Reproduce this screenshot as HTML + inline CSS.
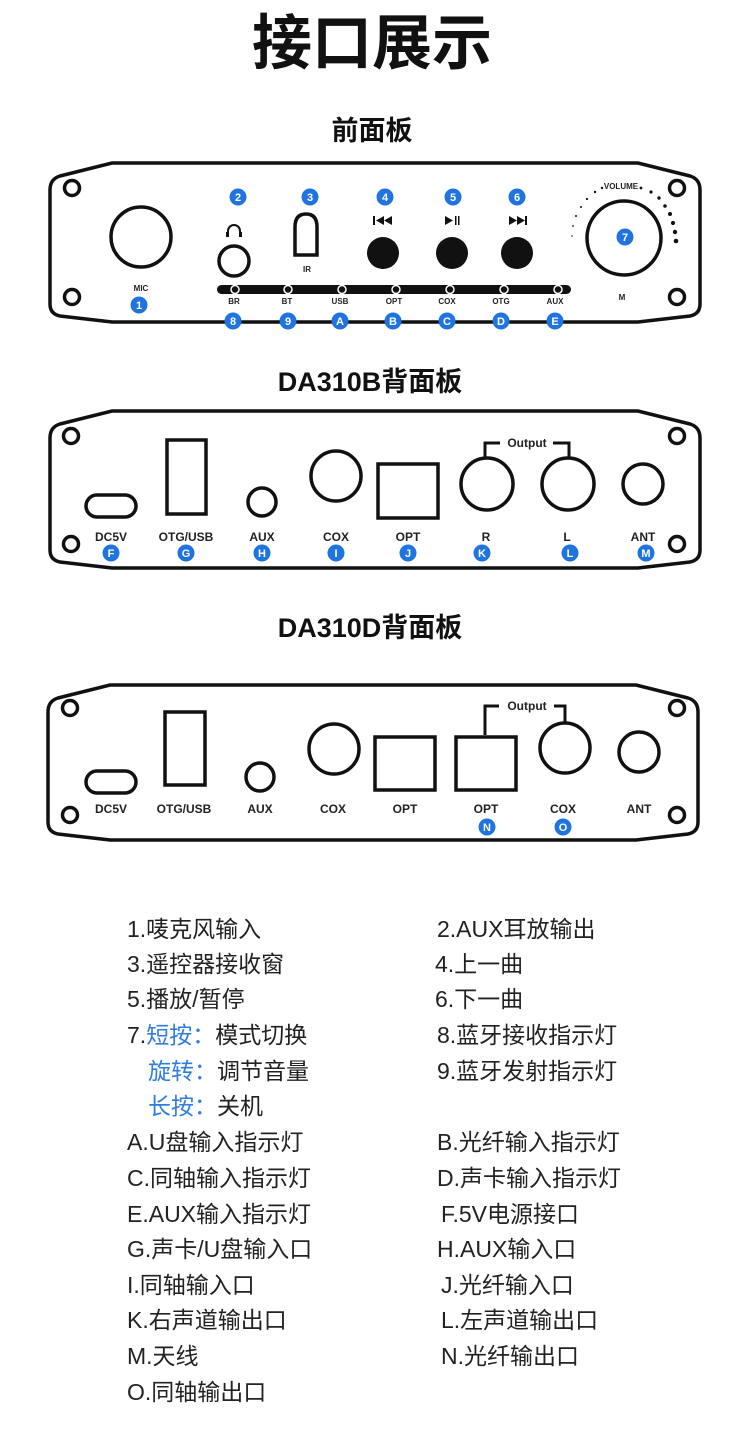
<!DOCTYPE html>
<html><head><meta charset="utf-8"><style>
html,body{margin:0;padding:0;background:#fff;}
svg{display:block}
.t{font-family:"Liberation Sans","Noto Sans CJK SC",sans-serif;}
.lbl{font-family:"Liberation Sans",sans-serif;font-weight:bold;font-size:12px;fill:#222;text-anchor:middle}
.sl{font-family:"Liberation Sans",sans-serif;font-weight:bold;font-size:8px;fill:#222;text-anchor:middle}
.bn{font-family:"Liberation Sans",sans-serif;font-weight:bold;font-size:11px;fill:#fff;text-anchor:middle}
.li{font-family:"Liberation Sans","Noto Sans CJK SC",sans-serif;font-size:23px;fill:#222}
.bl{fill:#2f7de1}
</style></head><body>
<svg width="750" height="1443" viewBox="0 0 750 1443" xmlns="http://www.w3.org/2000/svg">
<defs>
<g id="b"><circle r="8.5" fill="#1f74e0"/></g>
</defs>
<text x="372" y="64" class="t" font-size="60" font-weight="bold" text-anchor="middle" fill="#111">接口展示</text>
<text x="372" y="140" class="t" font-size="27" font-weight="bold" text-anchor="middle" fill="#111">前面板</text>
<text x="370" y="391" class="t" font-size="27" font-weight="bold" text-anchor="middle" fill="#111">DA310B背面板</text>
<text x="370" y="637" class="t" font-size="27" font-weight="bold" text-anchor="middle" fill="#111">DA310D背面板</text>

<!-- FRONT PANEL -->
<g fill="none" stroke="#111" stroke-width="3.5">
<path d="M112,163 H638 L690,176 Q700,179 700,190 V304 Q700,314 690,316 L638,322 H112 L60,316 Q50,314 50,304 V190 Q50,179 60,176 Z"/>
<circle cx="72" cy="188" r="7.5"/><circle cx="72" cy="297" r="7.5"/>
<circle cx="677" cy="188" r="7.5"/><circle cx="677" cy="297" r="7.5"/>
<circle cx="141" cy="237" r="30"/>
<circle cx="234" cy="261" r="15"/>
<path d="M295,255 V227 Q295,214 306,214 Q317,214 317,227 V255 Z"/>
<circle cx="624" cy="238" r="37"/>
</g>
<path d="M228,236 v-5 a6,6 0 0 1 12,0 v5" fill="none" stroke="#111" stroke-width="2"/>
<rect x="226" y="232" width="3" height="5" fill="#111"/><rect x="239" y="232" width="3" height="5" fill="#111"/>
<text x="307" y="272" class="sl">IR</text>
<text x="141" y="291" class="sl">MIC</text>
<text x="622" y="300" class="sl">M</text>
<text x="621" y="189" class="sl" font-size="7">VOLUME</text>
<g fill="#111">
<circle cx="383" cy="253" r="16"/><circle cx="452" cy="253" r="16"/><circle cx="517" cy="253" r="16"/>
<rect x="373" y="216" width="2" height="9"/><path d="M384,216 l-8,4.5 8,4.5z M392,216 l-8,4.5 8,4.5z"/>
<path d="M445,216 l8,4.5 -8,4.5z"/><rect x="455" y="216" width="1.5" height="9"/><rect x="458" y="216" width="1.5" height="9"/>
<path d="M509,216 l8,4.5 -8,4.5z M517,216 l8,4.5 -8,4.5z"/><rect x="525" y="216" width="2" height="9"/>
<rect x="217" y="285" width="354" height="9" rx="4.5"/>
</g>
<g fill="#111" stroke="#fff" stroke-width="1.5">
<circle cx="235" cy="289.5" r="4"/><circle cx="288" cy="289.5" r="4"/><circle cx="342" cy="289.5" r="4"/><circle cx="396" cy="289.5" r="4"/><circle cx="450" cy="289.5" r="4"/><circle cx="504" cy="289.5" r="4"/><circle cx="558" cy="289.5" r="4"/>
</g>
<g fill="#111">
<circle cx="572" cy="236" r="0.8"/><circle cx="573" cy="226" r="0.9"/><circle cx="576" cy="216" r="1"/><circle cx="581" cy="207" r="1"/><circle cx="587" cy="199" r="1.1"/><circle cx="595" cy="192" r="1.2"/><circle cx="602" cy="188" r="1.2"/>
<circle cx="641" cy="188" r="1.4"/><circle cx="651" cy="192" r="1.6"/><circle cx="659" cy="198" r="1.7"/><circle cx="665" cy="206" r="1.8"/><circle cx="670" cy="214" r="2"/><circle cx="673" cy="223" r="2.1"/><circle cx="675" cy="232" r="2.2"/><circle cx="676" cy="241" r="2.3"/>
</g>
<g class="sl"><text x="234" y="304">BR</text><text x="287" y="304">BT</text><text x="340" y="304">USB</text><text x="394" y="304">OPT</text><text x="447" y="304">COX</text><text x="501" y="304">OTG</text><text x="555" y="304">AUX</text></g>
<g>
<use href="#b" x="139" y="305"/><use href="#b" x="238" y="197"/><use href="#b" x="310" y="197"/><use href="#b" x="385" y="197"/><use href="#b" x="453" y="197"/><use href="#b" x="517" y="197"/><use href="#b" x="625" y="237"/>
<use href="#b" x="233" y="321"/><use href="#b" x="288" y="321"/><use href="#b" x="340" y="321"/><use href="#b" x="393" y="321"/><use href="#b" x="447" y="321"/><use href="#b" x="501" y="321"/><use href="#b" x="555" y="321"/>
</g>
<g class="bn">
<text x="139" y="309">1</text><text x="238" y="201">2</text><text x="310" y="201">3</text><text x="385" y="201">4</text><text x="453" y="201">5</text><text x="517" y="201">6</text><text x="625" y="241">7</text>
<text x="233" y="325">8</text><text x="288" y="325">9</text><text x="340" y="325">A</text><text x="393" y="325">B</text><text x="447" y="325">C</text><text x="501" y="325">D</text><text x="555" y="325">E</text>
</g>

<!-- DA310B -->
<g fill="none" stroke="#111" stroke-width="3.5">
<path d="M112,411 H638 L690,424 Q700,427 700,438 V550 Q700,560 690,562 L638,568 H112 L60,562 Q50,560 50,550 V438 Q50,427 60,424 Z"/>
<circle cx="71" cy="436" r="7.5"/><circle cx="71" cy="544" r="7.5"/><circle cx="677" cy="436" r="7.5"/><circle cx="677" cy="544" r="7.5"/>
<rect x="86" y="495" width="50" height="22" rx="11"/>
<rect x="167" y="440" width="39" height="74"/>
<circle cx="262" cy="502" r="14"/>
<circle cx="336" cy="476" r="25"/>
<rect x="378" y="464" width="60" height="54"/>
<circle cx="487" cy="484" r="26"/><circle cx="568" cy="484" r="26"/>
<circle cx="643" cy="484" r="20"/>
<path d="M485,458 V443 H500 M553,443 H569 V458" stroke-width="3"/>
</g>
<text x="527" y="447" class="lbl" font-size="12">Output</text>
<g class="lbl"><text x="111" y="541">DC5V</text><text x="186" y="541">OTG/USB</text><text x="262" y="541">AUX</text><text x="336" y="541">COX</text><text x="408" y="541">OPT</text><text x="486" y="541">R</text><text x="567" y="541">L</text><text x="643" y="541">ANT</text></g>
<g><use href="#b" x="111" y="553"/><use href="#b" x="186" y="553"/><use href="#b" x="262" y="553"/><use href="#b" x="336" y="553"/><use href="#b" x="408" y="553"/><use href="#b" x="482" y="553"/><use href="#b" x="570" y="553"/><use href="#b" x="646" y="553"/></g>
<g class="bn"><text x="111" y="557">F</text><text x="186" y="557">G</text><text x="262" y="557">H</text><text x="336" y="557">I</text><text x="408" y="557">J</text><text x="482" y="557">K</text><text x="570" y="557">L</text><text x="646" y="557">M</text></g>

<!-- DA310D -->
<g fill="none" stroke="#111" stroke-width="3.5">
<path d="M110,685 H636 L688,698 Q698,701 698,712 V822 Q698,832 688,834 L636,840 H110 L58,834 Q48,832 48,822 V712 Q48,701 58,698 Z"/>
<circle cx="70" cy="708" r="7.5"/><circle cx="70" cy="815" r="7.5"/><circle cx="677" cy="708" r="7.5"/><circle cx="677" cy="815" r="7.5"/>
<rect x="86" y="771" width="50" height="22" rx="11"/>
<rect x="165" y="712" width="40" height="73"/>
<circle cx="260" cy="777" r="14"/>
<circle cx="334" cy="749" r="25"/>
<rect x="375" y="737" width="60" height="53"/>
<rect x="456" y="737" width="60" height="53"/>
<circle cx="565" cy="748" r="25"/>
<circle cx="639" cy="752" r="20"/>
<path d="M485,735 V706 H499 M554,706 H565 V722" stroke-width="3"/>
</g>
<text x="527" y="710" class="lbl" font-size="12">Output</text>
<g class="lbl"><text x="111" y="813">DC5V</text><text x="184" y="813">OTG/USB</text><text x="260" y="813">AUX</text><text x="333" y="813">COX</text><text x="405" y="813">OPT</text><text x="486" y="813">OPT</text><text x="563" y="813">COX</text><text x="639" y="813">ANT</text></g>
<g><use href="#b" x="487" y="827"/><use href="#b" x="563" y="827"/></g>
<g class="bn"><text x="487" y="831">N</text><text x="563" y="831">O</text></g>

<!-- LIST -->
<g class="li">
<text x="127" y="937">1.唛克风输入</text><text x="437" y="937">2.AUX耳放输出</text>
<text x="127" y="972">3.遥控器接收窗</text><text x="435" y="972">4.上一曲</text>
<text x="127" y="1007">5.播放/暂停</text><text x="435" y="1007">6.下一曲</text>
<text x="127" y="1043">7.<tspan class="bl">短按：</tspan>模式切换</text><text x="437" y="1043">8.蓝牙接收指示灯</text>
<text x="148" y="1079"><tspan class="bl">旋转：</tspan>调节音量</text><text x="437" y="1079">9.蓝牙发射指示灯</text>
<text x="148" y="1114"><tspan class="bl">长按：</tspan>关机</text>
<text x="127" y="1150">A.U盘输入指示灯</text><text x="437" y="1150">B.光纤输入指示灯</text>
<text x="127" y="1186">C.同轴输入指示灯</text><text x="437" y="1186">D.声卡输入指示灯</text>
<text x="127" y="1222">E.AUX输入指示灯</text><text x="441" y="1222">F.5V电源接口</text>
<text x="127" y="1257">G.声卡/U盘输入口</text><text x="437" y="1257">H.AUX输入口</text>
<text x="127" y="1293">I.同轴输入口</text><text x="441" y="1293">J.光纤输入口</text>
<text x="127" y="1328">K.右声道输出口</text><text x="441" y="1328">L.左声道输出口</text>
<text x="127" y="1364">M.天线</text><text x="441" y="1364">N.光纤输出口</text>
<text x="127" y="1400">O.同轴输出口</text>
</g>
</svg>
</body></html>
